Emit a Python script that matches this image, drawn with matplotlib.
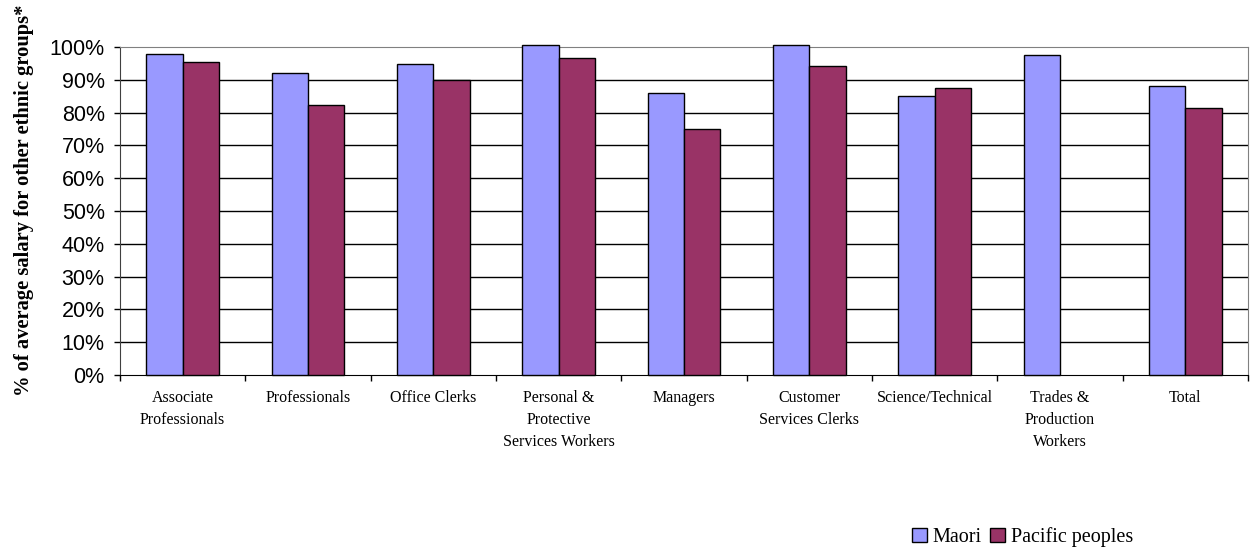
import matplotlib.pyplot as plt
import numpy as np
from matplotlib.ticker import PercentFormatter

categories = ["Associate\nProfessionals", "Professionals", "Office Clerks",
              "Personal &\nProtective\nServices Workers", "Managers",
              "Customer\nServices Clerks", "Science/Technical",
              "Trades &\nProduction\nWorkers", "Total"]
maori = [97.9, 92.1, 94.7, 100.5, 86.0, 100.5, 85.0, 97.5, 88.0]
pacific = [95.4, 82.2, 90.0, 96.6, 75.1, 94.2, 87.6, np.nan, 81.4]
yticks = list(range(0, 101, 10))

fig = plt.figure(figsize=(12.5, 5.48), dpi=100)
ax = fig.add_axes([0.096, 0.3157, 0.9024, 0.5985])

x = np.arange(len(categories))
w = 0.29
ax.bar(x - w / 2, maori, w, color="#9999FF", edgecolor="black", linewidth=1,
       label="Maori", zorder=3, clip_on=False)
ax.bar(x + w / 2, pacific, w, color="#993366", edgecolor="black", linewidth=1,
       label="Pacific peoples", zorder=3, clip_on=False)

ax.set_xlim(-0.5, len(categories) - 0.5)
ax.set_ylim(0, 100)
ax.set_yticks(yticks)
ax.yaxis.set_major_formatter(PercentFormatter(decimals=0))
for t in yticks[1:-1]:
    ax.axhline(t, color="black", linewidth=1, zorder=1)

# category borders get the ticks, names sit in between
ax.set_xticks(np.arange(len(categories) + 1) - 0.5)
ax.set_xticklabels([])
ax.set_xticks(x, minor=True)
ax.set_xticklabels(categories, minor=True, family="Liberation Serif",
                   fontsize=11.5, linespacing=1.5, va="top")
ax.tick_params(axis="x", which="major", direction="out", length=4, width=1)
ax.tick_params(axis="x", which="minor", length=0, pad=11)
ax.tick_params(axis="y", direction="out", length=4, width=1, pad=7)
for lbl in ax.get_yticklabels():
    lbl.set_family("Liberation Sans")
    lbl.set_fontsize(15.5)

for side in ["top", "right"]:
    ax.spines[side].set_color("#808080")
ax.spines["left"].set_color("#404040")
ax.spines["bottom"].set_color("black")

fig.text(0.019, 0.635, "% of average salary for other ethnic groups*",
         rotation=90, ha="center", va="center", family="Liberation Serif",
         fontweight="bold", fontsize=14.8)

fig.legend(loc="center", bbox_to_anchor=(0.818, 0.02), ncol=2, frameon=False,
           prop={"family": "Liberation Serif", "size": 14.5},
           handlelength=0.75, handleheight=0.75, handletextpad=0.3,
           columnspacing=0.4, borderpad=0)

fig.savefig("out.png", dpi=100)
